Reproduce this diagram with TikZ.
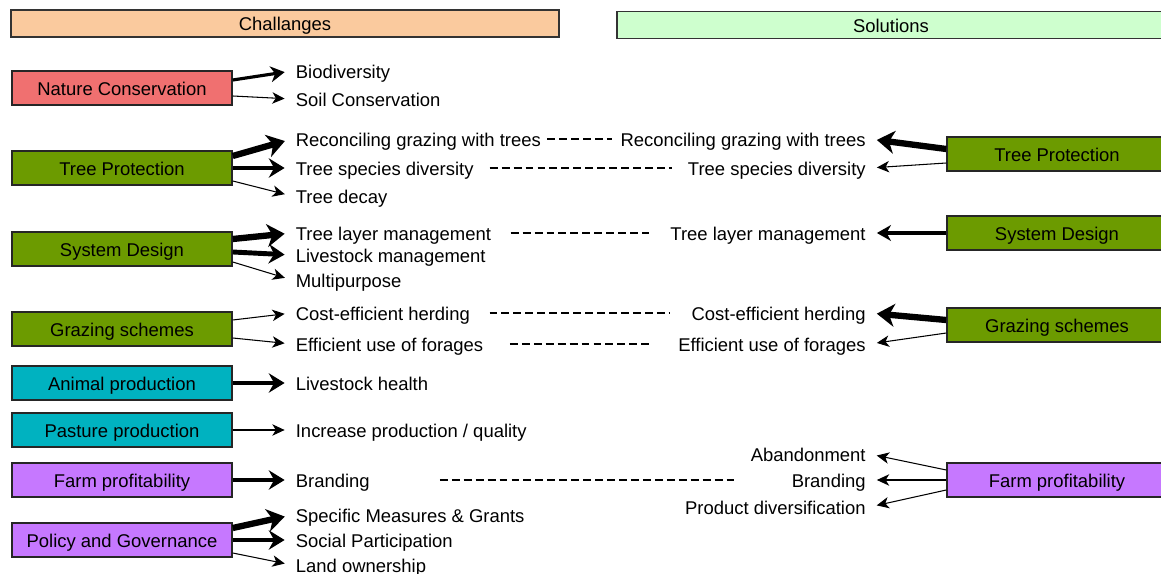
\documentclass[tikz,border=0pt]{standalone}
\usepackage{fontspec}
\setmainfont{Liberation Sans}
\usepackage{tikz}
\usetikzlibrary{arrows.meta,calc}
\usepackage{xcolor}
\definecolor{headorange}{RGB}{250,202,158}
\definecolor{headgreen}{RGB}{206,255,206}
\definecolor{natred}{RGB}{240,112,112}
\definecolor{treegreen}{RGB}{108,155,0}
\definecolor{prodteal}{RGB}{0,178,192}
\definecolor{farmpurple}{RGB}{198,120,255}

\begin{document}
\begin{tikzpicture}[x=0.02cm,y=-0.02cm,
	  every node/.style={font=\fontsize{10.5}{12}\selectfont,text height=0.95em,text depth=0.15em,inner sep=2pt},
	  header/.style={draw=black!80,line width=0.8pt,minimum width=10.96cm,minimum height=0.54cm},
	  challenge/.style={draw=black!85,line width=0.85pt,minimum width=4.4cm,minimum height=0.68cm},
	  item/.style={anchor=west},
	  solution/.style={anchor=east},
	  thin/.style={-{Stealth[length=7pt,width=6.5pt,inset=2pt]},line width=0.6pt,shorten >=4.2pt},
	  mid/.style={-{Stealth[length=8pt,width=9pt,inset=2.5pt]},line width=1.8pt,shorten >=4.2pt},
	  heavy/.style={-{Stealth[length=9pt,width=11pt,inset=3pt]},line width=2.8pt,shorten >=4.2pt},
	  heaviest/.style={-{Stealth[length=10pt,width=13pt,inset=3pt]},line width=3.6pt,shorten >=4.2pt},
	  link/.style={line width=0.6pt,dash pattern=on 4.5pt off 2.3pt}]

	  \useasboundingbox (0,0) rectangle (1161,574);

	  % Headers
	  \node[header,fill=headorange] (challanges) at (285,23.5) {Challanges};
	  \node[header,fill=headgreen] (solutions) at (891,25) {Solutions};

	  % Challenge boxes
	  \node[challenge,fill=natred] (nature) at (122,88) {Nature Conservation};
	  \node[challenge,fill=treegreen] (treeprot) at (122,168) {Tree Protection};
	  \node[challenge,fill=treegreen] (sysdesign) at (122,249) {System Design};
	  \node[challenge,fill=treegreen] (grazing) at (122,329) {Grazing schemes};
	  \node[challenge,fill=prodteal] (animal) at (122,383) {Animal production};
	  \node[challenge,fill=prodteal] (pasture) at (122,430) {Pasture production};
	  \node[challenge,fill=farmpurple] (farm) at (122,480) {Farm profitability};
	  \node[challenge,fill=farmpurple] (policy) at (122,540) {Policy and Governance};

	  % Solution boxes
	  \node[challenge,fill=treegreen] (treeprotsol) at (1057,154) {Tree Protection};
	  \node[challenge,fill=treegreen] (sysdesignsol) at (1057,233) {System Design};
	  \node[challenge,fill=treegreen] (grazingsol) at (1057,325) {Grazing schemes};
	  \node[challenge,fill=farmpurple] (farmsol) at (1057,480) {Farm profitability};

	  % Challenge items
	  \node[item] (biodiv) at (292,71) {Biodiversity};
	  \node[item] (soil) at (292,99) {Soil Conservation};
	  \node[item] (reconcile) at (292,139) {Reconciling grazing with trees};
	  \node[item] (species) at (292,168) {Tree species diversity};
	  \node[item] (decay) at (292,196) {Tree decay};
	  \node[item] (treelayer) at (292,233) {Tree layer management};
	  \node[item] (livestock) at (292,255) {Livestock management};
	  \node[item] (multipurpose) at (292,280) {Multipurpose};
	  \node[item] (herding) at (292,313) {Cost-efficient herding};
	  \node[item] (forages) at (292,344) {Efficient use of forages};
	  \node[item] (health) at (292,383) {Livestock health};
	  \node[item] (increase) at (292,430) {Increase production / quality};
	  \node[item] (branding) at (292,480) {Branding};
	  \node[item] (measures) at (292,515) {Specific Measures \& Grants};
	  \node[item] (participation) at (292,540) {Social Participation};
	  \node[item] (ownership) at (292,565) {Land ownership};

	  % Solution items
	  \node[solution] (reconcilesol) at (869.5,139) {Reconciling grazing with trees};
	  \node[solution] (speciessol) at (869.5,168) {Tree species diversity};
	  \node[solution] (treelayersol) at (869.5,233) {Tree layer management};
	  \node[solution] (herdingsol) at (869.5,313) {Cost-efficient herding};
	  \node[solution] (foragessol) at (869.5,344) {Efficient use of forages};
	  \node[solution] (abandon) at (869.5,454) {Abandonment};
	  \node[solution] (brandingsol) at (869.5,480) {Branding};
	  \node[solution] (diversif) at (869.5,507) {Product diversification};

	  % Challenges to items
	  \draw[mid] ($(nature.east)+(0,-8)$) -- (biodiv.west);
	  \draw[thin] ($(nature.east)+(0,8)$) -- (soil.west);
	  \draw[heaviest] ($(treeprot.east)+(0,-12)$) -- (reconcile.west);
	  \draw[heavy] (treeprot.east) -- (species.west);
	  \draw[thin] ($(treeprot.east)+(0,13)$) -- (decay.west);
	  \draw[heaviest] ($(sysdesign.east)+(0,-10)$) -- (treelayer.west);
	  \draw[heavy] ($(sysdesign.east)+(0,3)$) -- (livestock.west);
	  \draw[thin] ($(sysdesign.east)+(0,13)$) -- (multipurpose.west);
	  \draw[thin] ($(grazing.east)+(0,-9)$) -- (herding.west);
	  \draw[thin] ($(grazing.east)+(0,9)$) -- (forages.west);
	  \draw[heavy] (animal.east) -- (health.west);
	  \draw[thin] (pasture.east) -- (increase.west);
	  \draw[heavy] (farm.east) -- (branding.west);
	  \draw[heaviest] ($(policy.east)+(0,-12)$) -- (measures.west);
	  \draw[heavy] (policy.east) -- (participation.west);
	  \draw[thin] ($(policy.east)+(0,13)$) -- (ownership.west);

	  % Solutions to items
	  \draw[heaviest] ($(treeprotsol.west)+(0,-5)$) -- (reconcilesol.east);
	  \draw[thin] ($(treeprotsol.west)+(0,9)$) -- (speciessol.east);
	  \draw[mid] (sysdesignsol.west) -- (treelayersol.east);
	  \draw[heaviest] ($(grazingsol.west)+(0,-5)$) -- (herdingsol.east);
	  \draw[thin] ($(grazingsol.west)+(0,8)$) -- (foragessol.east);
	  \draw[thin] ($(farmsol.west)+(0,-10)$) -- (abandon.east);
	  \draw[thin] (farmsol.west) -- (brandingsol.east);
	  \draw[thin] ($(farmsol.west)+(0,10)$) -- (diversif.east);

	  % Matching items
	  \draw[link,shorten <=1.4pt,shorten >=2.5pt] (reconcile) -- (reconcilesol);
	  \draw[link,shorten <=7pt,shorten >=7pt] (species) -- (speciessol);
	  \draw[link,shorten <=9pt,shorten >=10pt] (treelayer) -- (treelayersol);
	  \draw[link,shorten <=9pt,shorten >=10pt] (herding) -- (herdingsol);
	  \draw[link,shorten <=13pt,shorten >=14.5pt] (forages) -- (foragessol);
	  \draw[link,shorten <=37.7pt,shorten >=30pt] (branding) -- (brandingsol);

\end{tikzpicture}
\end{document}
